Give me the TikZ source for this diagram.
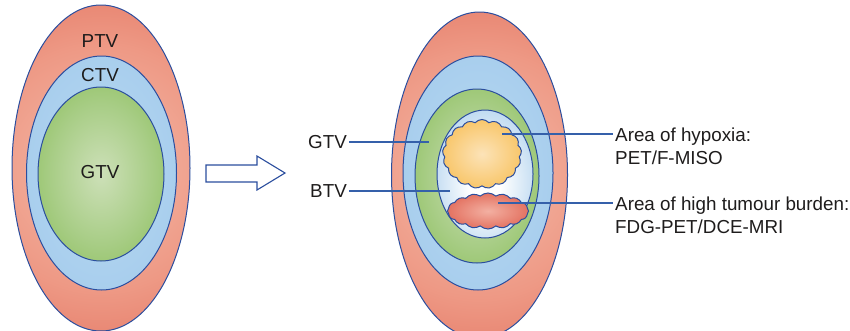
\documentclass[tikz,border=0pt]{standalone}
\usepackage{fontspec}
\setmainfont{Liberation Sans}
\usetikzlibrary{shapes.symbols,shapes.arrows}
\definecolor{outl}{HTML}{2B4E9E}
\definecolor{conn}{HTML}{3560AA}
\definecolor{txt}{HTML}{1E1C1C}
\definecolor{ptvA}{HTML}{F4BBAA}
\definecolor{ptvB}{HTML}{EE9985}
\definecolor{ptvC}{HTML}{E06B58}
\definecolor{ctvA}{HTML}{B8D9F2}
\definecolor{ctvB}{HTML}{9EC7EA}
\definecolor{gtvA}{HTML}{CDE0B8}
\definecolor{gtvM}{HTML}{A8CD86}
\definecolor{gtvB}{HTML}{8CBF5C}
\definecolor{btvB}{HTML}{A8CDEC}
\definecolor{yelA}{HTML}{FCE3B8}
\definecolor{yelB}{HTML}{F7BB4C}
\definecolor{redA}{HTML}{F3B0A2}
\definecolor{redB}{HTML}{DD5A48}
\pgfdeclareradialshading{ptvsh}{\pgfpoint{0bp}{0bp}}{color(0bp)=(ptvA); color(18bp)=(ptvB); color(35bp)=(ptvC); color(50bp)=(ptvC)}
\pgfdeclareradialshading{ctvsh}{\pgfpoint{0bp}{0bp}}{color(0bp)=(ctvA); color(25bp)=(ctvA!40!ctvB); color(35bp)=(ctvB); color(50bp)=(ctvB)}
\pgfdeclareradialshading{gtvsh}{\pgfpoint{0bp}{0bp}}{color(0bp)=(gtvA); color(20bp)=(gtvM); color(35bp)=(gtvB); color(50bp)=(gtvB)}
\pgfdeclareradialshading{btvsh}{\pgfpoint{0bp}{-5bp}}{color(0bp)=(white); color(8bp)=(white); color(35bp)=(btvB); color(50bp)=(btvB)}
\pgfdeclareradialshading{yelsh}{\pgfpoint{0bp}{0bp}}{color(0bp)=(yelA); color(35bp)=(yelB); color(50bp)=(yelB)}
\pgfdeclareradialshading{redsh}{\pgfpoint{0bp}{0bp}}{color(0bp)=(redA); color(35bp)=(redB); color(50bp)=(redB)}
\tikzset{
  ring/.style={draw=outl, line width=1pt},
  lab/.style={text=txt, font=\fontsize{18.8}{23}\selectfont, inner sep=2pt},
  conline/.style={draw=conn, line width=1.1pt},
}
\begin{document}
\begin{tikzpicture}[x=1pt,y=-1pt]
\useasboundingbox (0,0) rectangle (850,330);
% ---------- left target ----------
\begin{scope}
  \clip (101,168) ellipse [x radius=89pt, y radius=163pt];
  \shade[shading=ptvsh] (101,168) circle (170pt);
\end{scope}
\draw[ring] (101,168) ellipse [x radius=89pt, y radius=163pt];
\shade[shading=ctvsh, ring] (101.5,173) ellipse [x radius=75pt, y radius=117pt];
\shade[shading=gtvsh, ring] (101,174) ellipse [x radius=63pt, y radius=87pt];
\node[lab] (lptv) at (100,41) {PTV};
\node[lab] (lctv) at (100,75) {CTV};
\node[lab] (lgtv) at (100,172) {GTV};
% ---------- arrow ----------
\draw[outl, line width=1.1pt, fill=white, line join=miter]
  (206,165) -- (257,165) -- (257,156) -- (285,173) -- (257,190) -- (257,182) -- (206,182) -- cycle;
% ---------- right target ----------
\begin{scope}
  \clip (479.5,175) ellipse [x radius=88pt, y radius=163pt];
  \shade[shading=ptvsh] (479.5,175) circle (170pt);
\end{scope}
\draw[ring] (479.5,175) ellipse [x radius=88pt, y radius=163pt];
\shade[shading=ctvsh, ring] (478,173) ellipse [x radius=75pt, y radius=117pt];
\shade[shading=gtvsh, ring] (477,176) ellipse [x radius=62pt, y radius=87pt];
\shade[shading=btvsh, ring] (485,174) ellipse [x radius=48pt, y radius=64pt];
\node[cloud, cloud puffs=17, cloud puff arc=100, cloud ignores aspect, minimum width=79pt, minimum height=69pt, inner sep=0pt, shading=yelsh, ring] (hyp) at (482,154) {};
\node[cloud, cloud puffs=16, cloud puff arc=85, cloud ignores aspect, minimum width=81pt, minimum height=36pt, inner sep=0pt, shading=redsh, ring] (burd) at (488,211) {};
% ---------- labels ----------
\node[lab, anchor=east] (rgtv) at (349,142) {GTV};
\node[lab, anchor=east] (rbtv) at (349,191) {BTV};
\coordinate (gtvpt) at (429,142);
\coordinate (btvpt) at (450,191);
\draw[conline] (rgtv.east) -- (gtvpt);
\draw[conline] (rbtv.east) -- (btvpt);
\node[lab, anchor=west, align=left] (thyp) at (613,146) {Area of hypoxia:\\PET/F-MISO};
\node[lab, anchor=west, align=left] (tbur) at (613,215) {Area of high tumour burden:\\FDG-PET/DCE-MRI};
\coordinate (hyppt) at (502,134);
\coordinate (burpt) at (498,203);
\draw[conline] (hyppt) -- (hyppt -| thyp.west);
\draw[conline] (burpt) -- (burpt -| tbur.west);
\end{tikzpicture}
\end{document}
